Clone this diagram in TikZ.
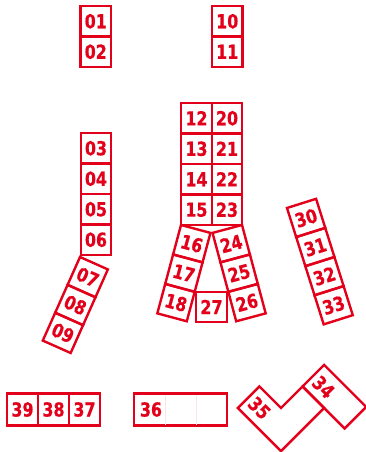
\documentclass[tikz,border=0pt]{standalone}
\usepackage{fontspec}
\newfontfamily\lblfont{DejaVu Sans}[FakeStretch=0.82, BoldFeatures={FakeBold=0.6}]
\definecolor{dbred}{RGB}{226,0,26}
\begin{document}
\begin{tikzpicture}[x=0.75pt,y=-0.75pt,
  lbl/.style={text=dbred, inner sep=0pt, font=\lblfont\bfseries\fontsize{14.5}{14.5}\selectfont},
  cell/.style={lbl, draw=dbred, line width=1.8pt, minimum width=22.875pt, minimum height=22.875pt},
  widecell/.style={cell, minimum width=23.25pt, minimum height=24pt},
  outline/.style={draw=dbred, line width=1.8pt, line join=miter},
  faint/.style={draw=dbred!10, line width=0.5pt}]
\useasboundingbox (0,0) rectangle (365,452);
% column 01-02
\node[cell] (n01) at (95.75,21.25) {01};
\node[cell] (n02) at (95.75,51.75) {02};
% column 10-11
\node[cell] (n10) at (227.25,21.25) {10};
\node[cell] (n11) at (227.25,51.75) {11};
% column 03-06
\node[cell] (n03) at (96,148.25) {03};
\node[cell] (n04) at (96,178.75) {04};
\node[cell] (n05) at (96,209.25) {05};
\node[cell] (n06) at (96,239.75) {06};
% strip 07-09
\node[cell, rotate=-24] (n07) at (87.73,277.13) {07};
\node[cell, rotate=-24] (n08) at (75.33,304.99) {08};
\node[cell, rotate=-24] (n09) at (62.93,332.85) {09};
% double column
\node[cell] (n12) at (196.5,118.25) {12};
\node[cell] (n13) at (196.5,148.75) {13};
\node[cell] (n14) at (196.5,179.25) {14};
\node[cell] (n15) at (196.5,209.75) {15};
\node[cell] (n20) at (227,118.25) {20};
\node[cell] (n21) at (227,148.75) {21};
\node[cell] (n22) at (227,179.25) {22};
\node[cell] (n23) at (227,209.75) {23};
% legs
\node[cell, rotate=-15] (n16) at (191.78,243.68) {16};
\node[cell, rotate=-15] (n17) at (183.89,273.14) {17};
\node[cell, rotate=-15] (n18) at (176.00,302.60) {18};
\node[cell, rotate=15] (n24) at (231.22,243.68) {24};
\node[cell, rotate=15] (n25) at (239.11,273.14) {25};
\node[cell, rotate=15] (n26) at (247.00,302.60) {26};
\node[cell] (n27) at (211.5,307) {27};
% strip 30-33
\node[cell, rotate=17.5] (n30) at (306.13,217.95) {30};
\node[cell, rotate=17.5] (n31) at (315.30,247.04) {31};
\node[cell, rotate=17.5] (n32) at (324.47,276.13) {32};
\node[cell, rotate=17.5] (n33) at (333.64,305.22) {33};
% bottom row
\node[widecell] (n39) at (22.5,409.5) {39};
\node[widecell] (n38) at (53.5,409.5) {38};
\node[widecell] (n37) at (84.5,409.5) {37};
\node[outline, minimum width=69.75pt, minimum height=24pt, inner sep=0pt] (n36box) at (180.5,409.5) {};
\draw[faint] (165.5,394.5) -- (165.5,424.5);
\draw[faint] (196.5,394.5) -- (196.5,424.5);
\node[lbl] (n36) at (151,409.5) {36};
% L shapes 35 and 34
\coordinate (N) at (281,408);
\draw[outline] (259.43,386.43) -- (237.86,408) -- (281,451.14) -- (324.14,408)
  -- (302.57,386.43) -- (N) -- cycle;
\draw[outline] (302.57,386.43) -- (324.14,364.86) -- (366.2,406.9) -- (344.63,428.47) -- cycle;
\node[lbl, rotate=-45] (n35) at (259.43,408) {35};
\node[lbl, rotate=-45] (n34) at (323.5,387) {34};
\end{tikzpicture}
\end{document}
